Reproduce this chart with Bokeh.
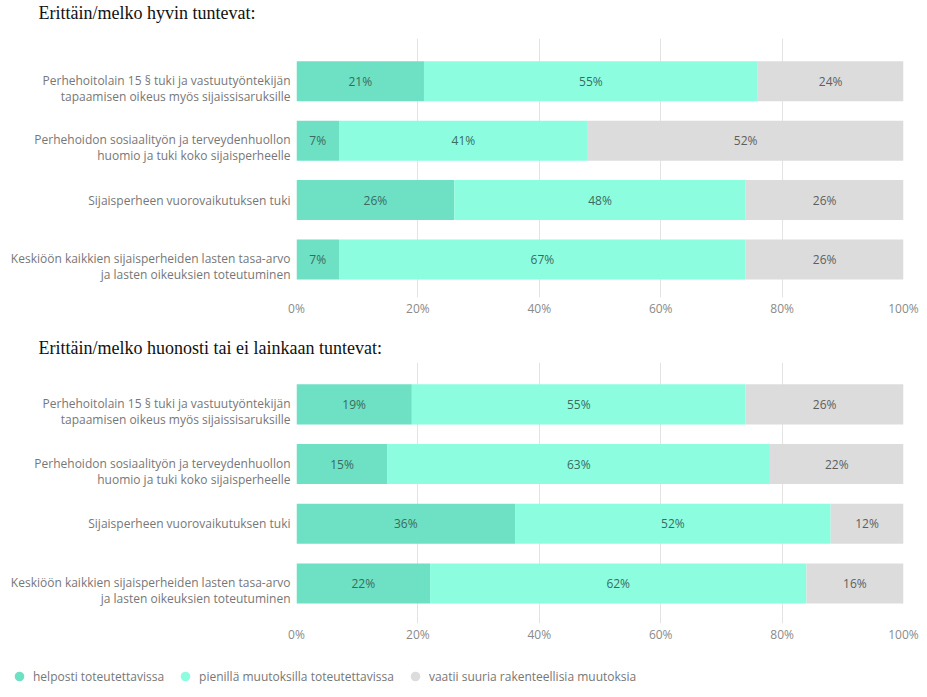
from bokeh.plotting import figure
from bokeh.layouts import column
from bokeh.models import (ColumnDataSource, Range1d, FixedTicker, Legend, LegendItem, Title)
from bokeh.core.properties import value
from bokeh.embed import file_html
from bokeh.resources import INLINE

categories = [
    "Perhehoitolain 15 § tuki ja vastuutyöntekijän\ntapaamisen oikeus myös sijaissisaruksille",
    "Perhehoidon sosiaalityön ja terveydenhuollon\nhuomio ja tuki koko sijaisperheelle",
    "Sijaisperheen vuorovaikutuksen tuki",
    "Keskiöön kaikkien sijaisperheiden lasten tasa-arvo\nja lasten oikeuksien toteutuminen",
]
series_names = ["helposti toteutettavissa", "pienillä muutoksilla toteutettavissa",
                "vaatii suuria rakenteellisia muutoksia"]
title_top = "Erittäin/melko hyvin tuntevat:"
title_bottom = "Erittäin/melko huonosti tai ei lainkaan tuntevat:"

top_easy = [21, 7, 26, 7]
top_small = [55, 41, 48, 67]
top_major = [24, 52, 26, 26]

bottom_easy = [19, 15, 36, 22]
bottom_small = [55, 63, 52, 62]
bottom_major = [26, 22, 12, 16]

x_ticks = [0, 20, 40, 60, 80, 100]

colors = ["#6ee0c3", "#8cfedf", "#dcdcdc"]
text_colors = ["#3b6b5f", "#3b6b5f", "#5e5e5e"]
FONT = "Open Sans"
# two-line labels sit a little lower than the bar centre in the original
LABEL_SHIFT = 0.12


def title_obj(text, standoff):
    return Title(text=text, align="left", offset=-258, standoff=standoff,
                 text_font="Liberation Serif", text_font_size="18px",
                 text_font_style="normal", text_color="#111111")


def make_chart(easy, small, major, title, height, top_border, bottom_border, yr,
               standoff, spacer):
    p = figure(width=927, height=height, output_backend="svg", toolbar_location=None,
               x_range=Range1d(0, 100), y_range=yr, title=None,
               min_border_left=296, min_border_right=24,
               min_border_top=top_border, min_border_bottom=bottom_border)
    if spacer is not None:
        p.add_layout(Title(text=" ", text_font_size="2px", standoff=spacer), "above")
    p.add_layout(title_obj(title, standoff), "above")
    n = len(easy)
    ys = list(range(n))
    series = [easy, small, major]
    left = [0] * n
    lx, ly, lt, lc = [], [], [], []
    for s, vals in enumerate(series):
        right = [l + v for l, v in zip(left, vals)]
        src = ColumnDataSource(dict(y=ys, left=left, right=right))
        p.hbar(y="y", left="left", right="right", height=0.672, source=src,
               fill_color=colors[s], line_color=None)
        for i in range(n):
            lx.append((left[i] + right[i]) / 2)
            ly.append(ys[i])
            lt.append(f"{vals[i]}%")
            lc.append(text_colors[s])
        left = right
    tsrc = ColumnDataSource(dict(x=lx, y=ly, t=lt, c=lc))
    p.text(x="x", y="y", text="t", source=tsrc, text_color="c",
           text_align="center", text_baseline="middle",
           text_font=value(FONT), text_font_size="12px")

    p.xaxis.ticker = FixedTicker(ticks=x_ticks)
    p.xaxis.major_label_overrides = {t: f"{t}%" for t in x_ticks}
    p.xaxis.axis_line_color = None
    p.xaxis.major_tick_line_color = None
    p.xaxis.minor_tick_line_color = None
    p.xaxis.major_label_text_font = FONT
    p.xaxis.major_label_text_font_size = "12px"
    p.xaxis.major_label_text_color = "#8a8a8a"
    p.xaxis.major_label_standoff = -4

    label_ticks = []
    overrides = {}
    for i in ys:
        t = round(i + LABEL_SHIFT, 2) if "\n" in categories[i] else i
        label_ticks.append(t)
        overrides[t] = categories[i]
    p.yaxis.ticker = FixedTicker(ticks=label_ticks)
    p.yaxis.major_label_overrides = overrides
    p.yaxis.axis_line_color = None
    p.yaxis.major_tick_line_color = None
    p.yaxis.minor_tick_line_color = None
    p.yaxis.major_label_text_font = FONT
    p.yaxis.major_label_text_font_size = "12px"
    p.yaxis.major_label_text_color = "#777777"
    p.yaxis.major_label_text_line_height = 0.95
    p.yaxis.major_label_standoff = 0

    p.xgrid.ticker = FixedTicker(ticks=x_ticks)
    p.xgrid.grid_line_color = "#e3e3e3"
    p.ygrid.grid_line_color = None
    p.outline_line_color = None
    return p


p1 = make_chart(top_easy, top_small, top_major, title_top, 326, 38, 29,
                Range1d(3.64, -0.72), 0, 12)
p2 = make_chart(bottom_easy, bottom_small, bottom_major, title_bottom, 329, 36, 32,
                Range1d(3.67, -0.70), 9, None)

p3 = figure(width=927, height=42, output_backend="svg", toolbar_location=None,
            x_range=Range1d(0, 1), y_range=Range1d(0, 1), title=None,
            min_border_left=0, min_border_right=0, min_border_top=0, min_border_bottom=0)
p3.frame_align = False
p3.axis.visible = False
p3.grid.grid_line_color = None
p3.outline_line_color = None
items = []
nan = float("nan")
for s, name in enumerate(series_names):
    r = p3.scatter(x=[nan], y=[nan], marker="circle", size=10,
                   fill_color=colors[s], line_color=None)
    items.append(LegendItem(label=name, renderers=[r]))
legend = Legend(items=items, orientation="horizontal", location=(7, 9),
                margin=0, padding=0, glyph_width=24, glyph_height=24,
                label_standoff=2, spacing=9,
                label_text_font=FONT, label_text_font_size="12px",
                label_text_color="#777777",
                background_fill_alpha=0, border_line_color=None)
p3.add_layout(legend, "center")

layout = column(p1, p2, p3, spacing=0)
open("out.html", "w").write(file_html(layout, INLINE))
